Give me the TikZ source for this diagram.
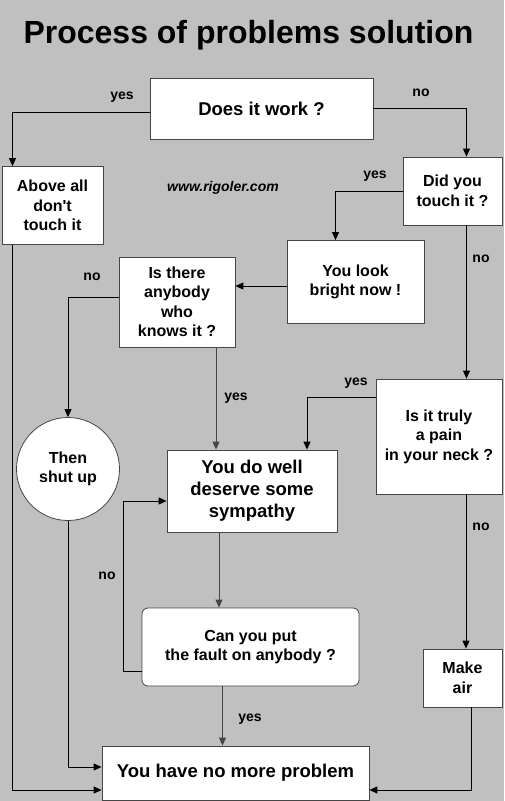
\documentclass[tikz,border=0pt]{standalone}
\usepackage{fontspec}
\setmainfont{Liberation Sans}[Ligatures=TeXOff]
\usetikzlibrary{arrows.meta}
\definecolor{bggray}{RGB}{192,192,192}
\definecolor{edgegray}{RGB}{70,70,70}
\tikzset{
  box/.style={draw=edgegray, fill=white, line width=0.8pt, align=center, inner sep=2pt,
    font=\bfseries\fontsize{16}{19.5}\selectfont},
  bigbox/.style={box, font=\bfseries\fontsize{18.5}{22}\selectfont},
  answer/.style={font=\bfseries\fontsize{14}{16}\selectfont},
  flow/.style={line width=0.9pt, -{Triangle[length=8pt, width=7pt]}},
}
\begin{document}
\begin{tikzpicture}[x=1pt, y=-1pt]
    \fill[bggray] (0,0) rectangle (504,801);
    \useasboundingbox (0,0) rectangle (504,801);

    \node[font=\bfseries\fontsize{32}{36}\selectfont] (title) at (248.5, 35) {Process of problems solution};
    \node[font=\bfseries\itshape\fontsize{14}{16}\selectfont] (site) at (223, 188) {www.rigoler.com};

    \node[box, minimum width=223pt, minimum height=61pt, font=\bfseries\fontsize{18.5}{22}\selectfont] (work) at (261.5, 108.5) {Does it work ?};
    \node[box, minimum width=101pt, minimum height=78pt] (above) at (52.5, 205.5) {Above all\\don't\\touch it};
    \node[box, minimum width=99pt, minimum height=68pt] (touch) at (452.5, 191) {Did you\\touch it ?};
    \node[box, minimum width=137pt, minimum height=83pt] (bright) at (355.5, 282) {You look\\bright now !};
    \node[box, minimum width=116pt, minimum height=90pt] (anybody) at (177, 302) {Is there\\anybody\\who\\knows it ?};
    \node[box, circle, minimum size=103pt, inner sep=0pt] (shut) at (68, 469) {Then\\shut up};
    \node[bigbox, minimum width=170pt, minimum height=82pt] (sympathy) at (252, 491) {You do well\\deserve some\\sympathy};
    \node[box, minimum width=126pt, minimum height=115pt] (pain) at (439, 436.5) {Is it truly\\a pain\\in your neck ?};
    \node[box, rounded corners=6pt, minimum width=217pt, minimum height=78pt] (fault) at (250.5, 647) {Can you put\\the fault on anybody ?};
    \node[box, minimum width=79pt, minimum height=58pt] (air) at (462.5, 678) {Make\\air};
    \node[bigbox, minimum width=267pt, minimum height=54pt] (noproblem) at (235.5, 773) {You have no more problem};

    \draw[flow] ([yshift=-4pt]work.west) -| ([xshift=-40pt]above.north);
    \draw[flow] (work.east) -| ([xshift=14pt]touch.north);
    \draw[flow] (touch.west) -| ([xshift=-20pt]bright.north);
    \draw[flow] ([xshift=14pt]touch.south) -- ([xshift=14pt]touch.south |- pain.north);
    \draw[flow] ([yshift=-4pt]bright.west) -- ([yshift=-4pt]bright.west -| anybody.east);
    \draw[flow] ([yshift=5pt]anybody.west) -| (shut.north);
    \draw[flow, edgegray] ([xshift=39pt]anybody.south) -- ([xshift=39pt]anybody.south |- sympathy.north);
    \draw[flow] ([yshift=39.5pt]pain.west) -| ([xshift=55pt]sympathy.north);
    \draw[flow] ([xshift=27pt]pain.south) -- ([xshift=27pt]pain.south |- air.north);
    \draw[flow, edgegray] ([xshift=-33pt]sympathy.south) -- ([xshift=-33pt]sympathy.south |- fault.north);
    \draw[flow] ([yshift=-24pt]fault.west) -- ++(-18, 0) |- ([yshift=-10pt]sympathy.west);
    \draw[flow, edgegray] ([xshift=-28pt]fault.south) -- ([xshift=-28pt]fault.south |- noproblem.north);
    \draw[flow] ([xshift=-40pt]above.south) |- ([yshift=-17pt]noproblem.west);
    \draw[flow] (shut.south) |- ([yshift=6pt]noproblem.west);
    \draw[flow] ([xshift=8.5pt]air.south) |- ([yshift=-17pt]noproblem.east);

    \node[answer] (yes1) at (122, 97) {yes};
    \node[answer] (no1) at (421, 93) {no};
    \node[answer] (yes2) at (375, 176) {yes};
    \node[answer] (no2) at (481, 259) {no};
    \node[answer] (no3) at (92, 277) {no};
    \node[answer] (yes3) at (236, 398) {yes};
    \node[answer] (yes4) at (356, 383) {yes};
    \node[answer] (no4) at (481, 527) {no};
    \node[answer] (no5) at (107, 576) {no};
    \node[answer] (yes5) at (250, 719) {yes};
\end{tikzpicture}
\end{document}
